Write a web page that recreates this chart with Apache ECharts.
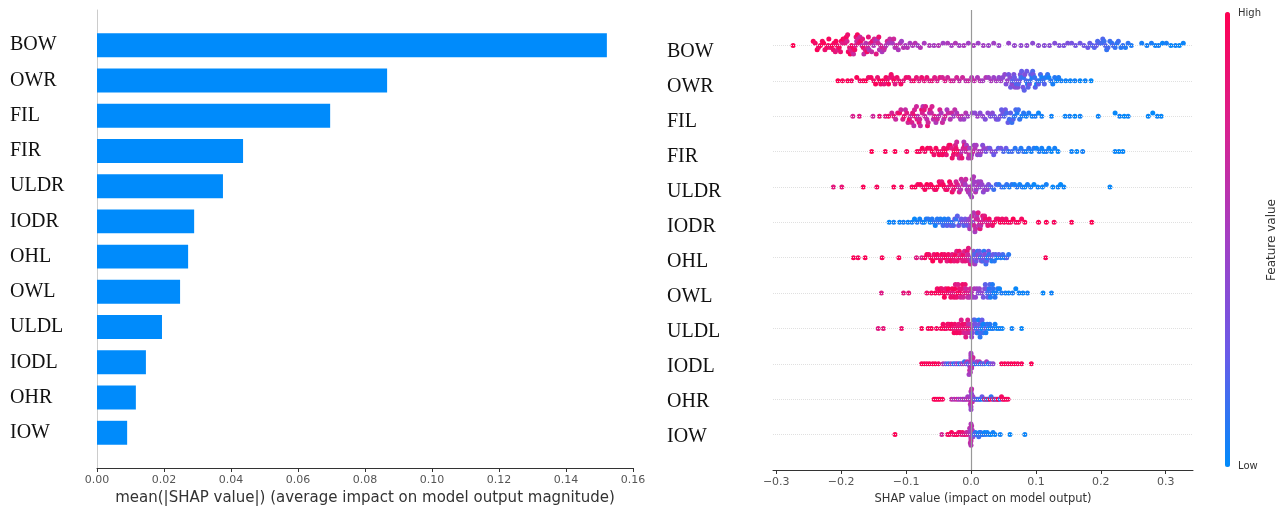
<!DOCTYPE html>
<html><head><meta charset="utf-8">
<script src="https://cdn.jsdelivr.net/npm/echarts@6/dist/echarts.min.js"></script>
<style>html,body{margin:0;padding:0;background:#fff}#c{width:1285px;height:512px}</style>
</head><body><div id="c"></div>
<script>
// features, bottom (index 0) to top (index 11)
const features = ['IOW','OHR','IODL','ULDL','OWL','OHL','IODR','ULDR','FIR','FIL','OWR','BOW'];
const meanAbsShap = [0.009,0.0116,0.0146,0.0194,0.0248,0.0272,0.029,0.0376,0.0436,0.0696,0.0866,0.1522];
const barTicks = [0,0.02,0.04,0.06,0.08,0.10,0.12,0.14,0.16];
const shapTicks = [-0.3,-0.2,-0.1,0,0.1,0.2,0.3];
const rowTicks = [0,1,2,3,4,5,6,7,8,9,10,11];

// each point: [SHAP value, normalised feature value (0 low .. 1 high)]
const shapBOW = [[-0.274,1],
[-0.243,.97],[-0.240,.92],[-0.237,.99],[-0.235,.9],[-0.232,.96],[-0.229,.93],[-0.227,.98],[-0.225,.88],[-0.222,.94],[-0.220,.91],
[-0.219,.95],[-0.217,.86],[-0.214,.99],[-0.212,.9],[-0.211,.93],[-0.209,.84],[-0.208,.97],[-0.206,.89],[-0.205,.8],
[-0.203,.95],[-0.201,.87],[-0.200,.92],[-0.198,.78],[-0.197,.99],[-0.195,.9],[-0.194,.82],[-0.192,.96],[-0.191,.75],[-0.190,.88],[-0.189,.93],
[-0.187,.85],[-0.186,.97],[-0.185,.72],[-0.184,.9],[-0.183,.8],[-0.182,.94],[-0.181,.68],[-0.179,.92],[-0.178,.77],[-0.177,.86],[-0.176,.65],[-0.175,.95],[-0.174,.74],[-0.173,.83],
[-0.171,.7],[-0.170,.9],[-0.168,.62],[-0.167,.81],[-0.166,.88],[-0.165,.66],[-0.163,.78],[-0.162,.6],[-0.160,.92],[-0.159,.7],[-0.158,.84],[-0.157,.58],
[-0.155,.73],[-0.153,.65],[-0.152,.86],[-0.150,.57],[-0.149,.76],[-0.147,.63],[-0.146,.8],[-0.144,.55],[-0.143,.71],[-0.142,.88],[-0.141,.6],
[-0.139,.68],[-0.137,.53],[-0.136,.77],[-0.134,.62],[-0.133,.7],[-0.131,.58],[-0.129,.74],[-0.127,.55],[-0.125,.66],[-0.123,.6],[-0.121,.52],[-0.119,.7],[-0.117,.57],
[-0.115,.64],[-0.112,.55],[-0.109,.61],[-0.107,.5],[-0.104,.6],[-0.101,.54],[-0.098,.57],[-0.094,.52],[-0.090,.55],[-0.086,.6],[-0.082,.5],[-0.078,.58],[-0.072,.53],
[-0.064,.55],[-0.057,.52],[-0.050,.57],[-0.043,.5],[-0.036,.54],[-0.030,.51],[-0.024,.56],[-0.018,.5],[-0.011,.53],[-0.004,.49],[0.004,.52],[0.011,.48],[0.019,.5],[0.027,.47],[0.035,.49],[0.043,.46],
[0.058,.45],[0.067,.44],[0.077,.42],[0.086,.43],[0.095,.4],[0.104,.41],[0.113,.38],[0.121,.39],[0.129,.36],[0.136,.35],[0.143,.33],[0.149,.34],[0.155,.31],[0.161,.3],[0.168,.28],[0.174,.29],[0.180,.26],
[0.183,.24],[0.187,.22],[0.190,.2],[0.193,.25],[0.195,.18],[0.198,.21],[0.201,.16],[0.203,.19],[0.205,.14],[0.207,.2],[0.209,.12],[0.211,.17],[0.214,.15],[0.217,.11],[0.219,.18],[0.222,.13],[0.225,.1],[0.227,.15],[0.231,.09],[0.234,.12],[0.238,.08],[0.242,.11],[0.247,.07],
[0.263,.06],[0.271,.05],[0.278,.07],[0.284,.04],[0.289,.05],[0.295,.03],[0.301,.06],[0.308,.02],[0.315,.04],[0.321,.01],[0.327,.03]];

const shapOWR = [[-0.205,1],[-0.198,.96],[-0.190,.98],[-0.184,.93],
[-0.176,.97],[-0.171,.9],[-0.166,.95],[-0.162,.99],[-0.158,.88],[-0.154,.94],[-0.150,.91],[-0.147,.97],[-0.144,.86],
[-0.141,.95],[-0.139,.9],[-0.136,.99],[-0.134,.84],[-0.131,.93],[-0.129,.88],[-0.127,.96],[-0.125,.82],[-0.123,.91],[-0.121,.87],[-0.119,.95],[-0.117,.8],[-0.114,.9],[-0.111,.85],
[-0.108,.93],[-0.104,.82],[-0.100,.89],[-0.096,.86],[-0.092,.8],[-0.088,.91],[-0.084,.84],[-0.080,.78],[-0.076,.88],[-0.072,.81],[-0.068,.86],[-0.064,.76],[-0.060,.83],[-0.056,.79],[-0.052,.74],[-0.048,.82],[-0.044,.72],[-0.040,.77],[-0.036,.7],[-0.031,.75],[-0.027,.68],[-0.022,.72],[-0.018,.65],[-0.013,.69],[-0.008,.62],[-0.004,.66],[0.001,.58],[0.005,.63],[0.010,.55],[0.014,.6],[0.018,.52],[0.023,.57],[0.027,.5],[0.031,.54],[0.035,.47],[0.039,.52],[0.043,.44],[0.046,.49],[0.049,.4],
[0.052,.42],[0.054,.35],[0.056,.45],[0.058,.3],[0.060,.38],[0.061,.27],[0.063,.41],[0.064,.22],[0.066,.33],[0.067,.25],[0.068,.39],[0.070,.18],[0.071,.29],[0.072,.36],[0.073,.2],[0.075,.26],[0.076,.32],[0.077,.15],[0.078,.24],[0.080,.3],[0.081,.12],[0.082,.22],[0.083,.35],[0.085,.17],[0.086,.27],[0.087,.1],[0.088,.21],[0.090,.3],[0.091,.14],[0.092,.24],[0.094,.08],[0.095,.19],[0.096,.28],[0.098,.12],[0.099,.22],[0.101,.06],[0.102,.16],[0.104,.25],[0.105,.1],[0.107,.18],[0.109,.05],[0.111,.14],[0.113,.2],[0.115,.08],[0.118,.12],[0.120,.04],[0.123,.1],[0.126,.06],[0.129,.09],[0.132,.03],[0.135,.07],[0.139,.05],
[0.146,.04],[0.153,.03],[0.160,.05],[0.168,.02],[0.176,.04],[0.185,.01]];

const shapFIL = [[-0.182,.75],[-0.172,.8],[-0.151,.7],[-0.141,.85],[-0.132,.78],[-0.127,.9],
[-0.122,.72],[-0.119,.84],[-0.116,.68],[-0.113,.8],[-0.110,.92],[-0.108,.7],[-0.105,.77],[-0.103,.86],[-0.101,.65],[-0.099,.8],[-0.097,.72],[-0.095,.9],[-0.093,.68],[-0.091,.76],[-0.090,.83],[-0.088,.64],[-0.087,.74],[-0.086,.88],[-0.084,.7],[-0.083,.79],[-0.082,.62],[-0.080,.85],[-0.079,.72],[-0.078,.67],[-0.076,.9],[-0.075,.75],[-0.074,.6],[-0.072,.82],[-0.071,.69],[-0.070,.77],[-0.068,.63],[-0.067,.86],[-0.066,.71],[-0.064,.58],[-0.063,.8],[-0.061,.66],[-0.060,.74],[-0.058,.61],[-0.056,.78],[-0.054,.56],[-0.052,.7],[-0.050,.64],[-0.048,.75],[-0.046,.55],[-0.044,.68],[-0.042,.6],[-0.040,.72],[-0.037,.53],[-0.035,.66],[-0.032,.58],[-0.030,.7],[-0.027,.5],[-0.025,.63],[-0.022,.55],[-0.019,.67],[-0.016,.52],[-0.014,.6],[-0.011,.48],[-0.008,.58],[-0.005,.5],
[0.002,.45],[0.006,.4],[0.010,.47],[0.014,.38],[0.018,.43],[0.022,.35],[0.026,.41],[0.030,.32],[0.033,.38],[0.036,.29],[0.039,.35],[0.042,.27],[0.045,.33],[0.047,.24],[0.049,.3],[0.051,.2],[0.053,.28],[0.055,.18],[0.057,.25],[0.059,.15],[0.061,.22],[0.063,.13],[0.065,.2],[0.067,.1],[0.069,.18],[0.071,.08],[0.073,.15],[0.075,.12],[0.078,.06],[0.081,.1],[0.085,.05],[0.089,.08],[0.094,.04],[0.099,.07],[0.104,.03],[0.109,.05],
[0.124,.04],[0.145,.03],[0.152,.05],[0.160,.02],[0.168,.04],[0.196,.03],[0.222,.02],[0.229,.04],[0.236,.01],[0.242,.03],[0.273,.02],[0.280,.01],[0.287,.03],[0.293,.02]];

const shapFIR = [[-0.153,1],[-0.132,.97],[-0.117,.99],[-0.099,.95],
[-0.083,.98],[-0.079,.93],[-0.075,.97],[-0.071,.9],[-0.067,.96],[-0.063,.92],[-0.060,.99],[-0.057,.88],[-0.054,.95],[-0.051,.91],[-0.049,.97],[-0.046,.86],[-0.044,.93],[-0.042,.89],[-0.040,.98],[-0.038,.84],[-0.036,.92],[-0.034,.87],[-0.032,.95],[-0.030,.8],[-0.029,.9],[-0.027,.85],[-0.026,.94],[-0.024,.76],[-0.023,.88],[-0.022,.7],[-0.020,.82],[-0.019,.92],[-0.018,.66],[-0.016,.78],[-0.015,.6],[-0.014,.86],[-0.012,.72],[-0.011,.56],[-0.010,.8],[-0.008,.64],[-0.007,.52],[-0.006,.74],[-0.004,.58],[-0.003,.68],[-0.002,.5],[0.000,.62],[0.001,.55],[0.003,.66],[0.005,.48],[0.006,.58],[0.008,.52],[0.010,.44],[0.012,.56],[0.014,.4],[0.016,.5],[0.018,.36],[0.020,.46],[0.023,.32],[0.026,.42],[0.029,.28],[0.032,.38],[0.035,.25],[0.038,.33],[0.042,.22],[0.046,.3],[0.050,.18],[0.054,.25],
[0.058,.12],[0.063,.16],[0.068,.1],[0.073,.14],[0.077,.08],[0.081,.12],[0.085,.06],[0.089,.1],[0.093,.05],[0.097,.09],[0.101,.04],[0.105,.08],[0.109,.05],[0.112,.03],[0.116,.07],[0.120,.04],[0.124,.02],[0.129,.05],[0.134,.03],
[0.155,.04],[0.163,.02],[0.172,.05],[0.222,.03],[0.228,.01],[0.234,.02]];

const shapULDR = [[-0.212,.82],[-0.199,.86],[-0.166,.98],[-0.145,.95],[-0.119,.97],[-0.107,.93],
[-0.091,.96],[-0.086,.99],[-0.082,.92],[-0.078,.97],[-0.074,.9],[-0.071,.95],[-0.068,.99],[-0.065,.88],[-0.062,.94],[-0.059,.97],[-0.056,.86],[-0.054,.92],[-0.052,.98],[-0.049,.9],[-0.047,.95],[-0.045,.84],[-0.043,.93],[-0.041,.97],[-0.039,.88],[-0.037,.92],[-0.035,.82],[-0.033,.95],[-0.031,.87],[-0.029,.91],[-0.027,.8],[-0.025,.88],
[-0.023,.72],[-0.021,.78],[-0.019,.66],[-0.018,.74],[-0.016,.6],[-0.015,.7],[-0.013,.56],[-0.012,.68],[-0.010,.62],[-0.009,.52],[-0.008,.66],[-0.006,.58],[-0.005,.5],[-0.004,.64],[-0.003,.55],[-0.002,.6],[-0.001,.48],[0.000,.57],[0.001,.52],[0.002,.62],[0.003,.46],[0.004,.55],[0.005,.5],[0.007,.58],[0.008,.44],[0.009,.52],[0.011,.47],[0.012,.55],[0.014,.42],[0.015,.5],[0.017,.45],[0.019,.4],[0.021,.48],[0.023,.38],[0.025,.44],[0.027,.35],
[0.031,.2],[0.035,.14],[0.039,.18],[0.043,.1],[0.047,.16],[0.051,.08],[0.055,.12],[0.059,.06],[0.063,.1],[0.067,.05],[0.071,.09],[0.075,.04],[0.079,.08],[0.083,.03],[0.087,.06],[0.092,.05],[0.097,.02],[0.103,.04],[0.110,.03],[0.116,.05],[0.126,.02],[0.134,.04],[0.138,.01],[0.143,.03],[0.214,.02]];

const shapIODR = [[-0.126,.02],[-0.119,.05],[-0.110,.03],[-0.104,.06],[-0.097,.04],
[-0.091,.05],[-0.087,.02],[-0.083,.07],[-0.079,.04],[-0.075,.09],[-0.072,.03],[-0.069,.06],[-0.066,.1],[-0.063,.04],[-0.060,.08],[-0.057,.12],[-0.055,.05],[-0.052,.09],[-0.050,.14],[-0.047,.07],[-0.045,.11],[-0.043,.16],[-0.041,.06],[-0.039,.13],[-0.037,.2],[-0.035,.09],[-0.033,.15],[-0.031,.24],[-0.029,.1],[-0.027,.18],[-0.025,.28],[-0.023,.12],[-0.021,.22],[-0.019,.32],[-0.017,.16],[-0.015,.26],[-0.013,.36],[-0.011,.2],[-0.009,.3],[-0.007,.4],[-0.005,.25],[-0.003,.45],
[-0.002,.55],[-0.001,.42],[0.000,.6],[0.001,.5],[0.002,.66],[0.003,.45],[0.004,.58],[0.005,.7],[0.006,.52],[0.007,.64],[0.008,.74],[0.009,.56],[0.010,.68],[0.011,.78],[0.012,.6],[0.013,.72],[0.014,.82],[0.015,.62],[0.017,.76],[0.018,.86],[0.019,.68],[0.021,.8],[0.022,.9],[0.024,.72],[0.026,.84],[0.028,.92],[0.030,.78],
[0.033,.88],[0.036,.95],[0.039,.85],[0.042,.92],[0.045,.98],[0.048,.9],[0.051,.95],[0.054,.88],[0.057,.97],[0.061,.93],[0.065,.99],[0.069,.91],[0.073,.96],[0.078,.94],[0.083,.98],
[0.104,.97],[0.116,.99],[0.128,.95],[0.155,.98],[0.186,1]];

const shapOHL = [[-0.181,.98],[-0.174,.95],[-0.163,.99],[-0.137,.97],[-0.111,.96],[-0.084,.8],[-0.076,.78],
[-0.071,.93],[-0.068,.97],[-0.065,.9],[-0.062,.95],[-0.059,.99],[-0.057,.88],[-0.054,.93],[-0.052,.97],[-0.050,.86],[-0.047,.92],[-0.045,.96],[-0.043,.84],[-0.041,.9],[-0.039,.98],[-0.037,.82],[-0.035,.92],[-0.033,.87],[-0.031,.95],[-0.029,.8],[-0.027,.9],[-0.026,.85],[-0.024,.94],[-0.022,.78],[-0.021,.88],[-0.019,.83],[-0.018,.92],[-0.016,.75],[-0.015,.86],[-0.013,.8],[-0.012,.9],[-0.010,.72],[-0.009,.84],[-0.008,.77],[-0.006,.88],[-0.005,.7],[-0.004,.82],[-0.003,.75],[-0.002,.65],[-0.001,.8],
[0.001,.45],[0.002,.3],[0.004,.4],[0.005,.2],[0.006,.5],[0.008,.25],[0.009,.35],[0.010,.15],[0.011,.42],[0.013,.22],[0.014,.3],[0.015,.12],[0.016,.38],[0.018,.18],[0.019,.28],[0.020,.1],[0.021,.35],[0.023,.15],[0.024,.25],[0.025,.08],[0.027,.32],[0.028,.12],[0.030,.22],[0.032,.06],[0.034,.28],[0.036,.1],[0.038,.2],[0.040,.05],[0.043,.24],[0.046,.08],[0.049,.16],[0.052,.05],[0.055,.2],[0.058,.1],
[0.115,.97]];

const shapOWL = [[-0.138,.78],[-0.104,.82],[-0.096,.85],[-0.068,.9],[-0.061,.94],
[-0.055,.97],[-0.052,.9],[-0.049,.95],[-0.047,.99],[-0.045,.88],[-0.043,.94],[-0.041,.97],[-0.039,.86],[-0.037,.92],[-0.035,.98],[-0.033,.84],[-0.031,.9],[-0.029,.95],[-0.028,.82],[-0.026,.91],[-0.025,.97],[-0.024,.8],[-0.022,.88],[-0.021,.94],[-0.020,.78],[-0.018,.86],[-0.017,.93],[-0.016,.75],[-0.014,.84],[-0.013,.9],[-0.012,.72],[-0.010,.82],[-0.009,.88],[-0.008,.7],[-0.006,.8],[-0.005,.66],[-0.004,.76],[-0.002,.62],[-0.001,.72],
[0.001,.58],[0.003,.5],[0.005,.55],[0.007,.45],[0.009,.52],[0.011,.4],[0.013,.48],[0.015,.35],[0.017,.42],[0.019,.3],[0.021,.38],[0.022,.22],[0.024,.3],[0.025,.15],[0.026,.25],[0.028,.1],[0.029,.2],[0.030,.06],[0.031,.16],[0.033,.08],[0.034,.12],[0.035,.04],[0.037,.1],[0.039,.05],[0.041,.09],[0.044,.03],[0.047,.07],
[0.053,.05],[0.058,.03],[0.064,.06],[0.069,.02],[0.074,.04],[0.080,.03],[0.087,.05],[0.111,.02],[0.124,.04]];

const shapULDL = [[-0.143,.8],[-0.135,.84],[-0.107,.88],[-0.076,.97],[-0.066,.95],[-0.061,.99],[-0.053,.93],
[-0.046,.97],[-0.043,.92],[-0.041,.99],[-0.038,.9],[-0.036,.95],[-0.034,.88],[-0.032,.97],[-0.030,.93],[-0.028,.86],[-0.026,.96],[-0.025,.9],[-0.023,.84],[-0.022,.94],[-0.020,.88],[-0.019,.82],[-0.017,.92],[-0.016,.86],[-0.015,.78],[-0.013,.9],[-0.012,.84],[-0.011,.75],[-0.009,.88],[-0.008,.8],[-0.007,.72],[-0.006,.86],[-0.005,.78],[-0.004,.68],[-0.003,.82],[-0.002,.7],[-0.001,.6],
[0.001,.45],[0.002,.35],[0.003,.5],[0.004,.25],[0.005,.4],[0.006,.18],[0.007,.3],[0.008,.12],[0.009,.38],[0.010,.08],[0.011,.22],[0.012,.05],[0.013,.28],[0.014,.1],[0.015,.18],[0.016,.04],[0.017,.24],[0.018,.08],[0.019,.14],[0.020,.03],[0.022,.2],[0.023,.06],[0.025,.12],[0.027,.04],[0.029,.1],[0.031,.03],[0.034,.08],[0.037,.05],[0.040,.02],[0.044,.06],[0.048,.03],[0.063,.04],[0.078,.02]];

const shapIODL = [[-0.076,.97],[-0.072,.99],[-0.068,.94],[-0.064,.98],[-0.059,.95],[-0.055,.99],[-0.050,.93],
[-0.043,.6],[-0.039,.3],[-0.035,.15],[-0.031,.45],[-0.027,.1],[-0.024,.25],[-0.021,.5],[-0.018,.08],[-0.015,.35],[-0.012,.55],[-0.010,.12],[-0.008,.4],[-0.006,.6],[-0.005,.2],
[-0.003,.5],[-0.002,.7],[-0.002,.4],[-0.001,.55],[-0.001,.62],[0.000,.45],[0.000,.58],[0.000,.66],[0.000,.52],[0.000,.48],[0.000,.6],[0.001,.54],[0.001,.64],[0.001,.42],[0.002,.57],[0.002,.5],[0.003,.68],
[0.005,.3],[0.007,.1],[0.009,.45],[0.011,.2],[0.013,.6],[0.015,.05],[0.018,.35],[0.021,.15],[0.024,.5],[0.027,.08],[0.030,.25],[0.034,.4],
[0.047,.95],[0.052,.98],[0.057,.92],[0.062,.97],[0.067,.99],[0.072,.94],[0.078,.96],[0.093,.98]];

const shapOHR = [[-0.057,.97],[-0.054,.99],[-0.051,.94],[-0.048,.98],[-0.044,.95],
[-0.030,.65],[-0.026,.55],[-0.022,.7],[-0.019,.5],[-0.016,.6],[-0.013,.45],[-0.011,.68],[-0.009,.4],[-0.007,.58],[-0.005,.5],[-0.004,.62],
[-0.002,.55],[-0.001,.6],[-0.001,.48],[0.000,.52],[0.000,.64],[0.000,.45],[0.000,.58],[0.000,.5],[0.001,.62],[0.001,.42],[0.002,.56],[0.002,.66],[0.003,.5],
[0.005,.35],[0.007,.2],[0.009,.4],[0.011,.1],[0.013,.3],[0.015,.05],[0.017,.25],[0.019,.08],[0.021,.85],[0.023,.15],[0.025,.9],[0.027,.05],[0.029,.95],[0.031,.12],[0.033,.88],[0.035,.08],[0.037,.97],[0.039,.2],[0.041,.92],[0.043,.99],[0.045,.1],[0.047,.94],[0.049,.98],[0.051,.9],[0.054,.96],[0.057,.93]];

const shapIOW = [[-0.117,.99],[-0.045,.72],[-0.036,.95],[-0.033,.9],[-0.030,.98],[-0.027,.86],[-0.024,.93],[-0.021,.97],[-0.019,.84],[-0.017,.91],[-0.015,.8],[-0.013,.88],[-0.011,.76],[-0.009,.85],[-0.007,.7],[-0.005,.8],[-0.004,.66],
[-0.002,.6],[-0.001,.55],[-0.001,.65],[0.000,.5],[0.000,.58],[0.000,.62],[0.000,.45],[0.000,.55],[0.000,.68],[0.001,.5],[0.001,.6],[0.002,.48],[0.002,.56],[0.003,.4],
[0.005,.2],[0.007,.1],[0.008,.25],[0.010,.05],[0.012,.15],[0.013,.03],[0.015,.12],[0.017,.06],[0.019,.1],[0.021,.02],[0.023,.08],[0.025,.04],[0.028,.06],[0.031,.02],[0.034,.05],[0.037,.03],[0.045,.04],[0.060,.02],[0.083,.03]];

const shapRows = [shapIOW,shapOHR,shapIODL,shapULDL,shapOWL,shapOHL,shapIODR,shapULDR,shapFIR,shapFIL,shapOWR,shapBOW];

// beeswarm layout (SHAP-style binning) -> [shap, row + offset, featureValue]
function swarm(points, row) {
  const xs = points.map(p => p[0]);
  const mn = Math.min(...xs), mx = Math.max(...xs);
  const nb = 50;
  const q = points.map(p => Math.round(nb * (p[0] - mn) / (mx - mn + 1e-8)));
  // deterministic order inside a bin (golden-ratio sequence on the index)
  const ord = points.map((p, i) => (i * 0.6180339887) % 1);
  const idx = points.map((p, i) => i).sort((a, b) => (q[a] - q[b]) || (ord[a] - ord[b]));
  const ys = new Array(points.length).fill(0);
  let layer = 0, last = -1;
  idx.forEach(i => {
    if (q[i] !== last) layer = 0;
    ys[i] = Math.ceil(layer / 2) * ((layer % 2) * 2 - 1);
    layer++; last = q[i];
  });
  const m = Math.max(...ys.map(y => y + 1));
  const s = 0.9 * 0.4 / m;
  return points.map((p, i) => [p[0], row + ys[i] * s, p[1]]);
}
let swarmData = [];
shapRows.forEach((pts, r) => { swarmData = swarmData.concat(swarm(pts, r)); });

const FONT = 'DejaVu Sans';
const SERIF = '"Liberation Serif", "Times New Roman", serif';
const minusFmt = v => (v < 0 ? '\u2212' : '') + Math.abs(v).toFixed(1);

const chart = echarts.init(document.getElementById('c'), null, {renderer: 'canvas'});
chart.setOption({
  animation: false,
  backgroundColor: '#fff',
  grid: [
    {left: 97, right: 652, top: 10, bottom: 44},
    {left: 773, right: 92, top: 10, bottom: 42}
  ],
  xAxis: [
    {gridIndex: 0, type: 'value', min: 0, max: 0.16, interval: 0.02,
     axisLine: {onZero: false, lineStyle: {color: '#333', width: 1}},
     axisTick: {show: true, length: 4, lineStyle: {color: '#333'}},
     axisLabel: {formatter: v => v.toFixed(2), fontFamily: FONT, fontSize: 11, color: '#555', margin: 7},
     splitLine: {show: false},
     name: 'mean(|SHAP value|) (average impact on model output magnitude)',
     nameLocation: 'middle', nameGap: 23,
     nameTextStyle: {fontFamily: FONT, fontSize: 15, color: '#333'}},
    {gridIndex: 1, type: 'value', min: -0.305, max: 0.342,
     axisLine: {onZero: false, lineStyle: {color: '#333', width: 1}},
     axisTick: {show: true, length: 4, customValues: shapTicks, lineStyle: {color: '#333'}},
     axisLabel: {customValues: shapTicks, formatter: minusFmt, fontFamily: FONT, fontSize: 11, color: '#555', margin: 7},
     splitLine: {show: false},
     name: 'SHAP value (impact on model output)',
     nameLocation: 'middle', nameGap: 23,
     nameTextStyle: {fontFamily: FONT, fontSize: 11.5, color: '#333'}}
  ],
  yAxis: [
    {gridIndex: 0, type: 'value', min: -1, max: 12,
     axisLine: {show: true, onZero: false, lineStyle: {color: '#ccc'}},
     axisTick: {show: false}, splitLine: {show: false},
     axisLabel: {customValues: rowTicks, formatter: v => features[v], align: 'left', margin: 87,
                 fontFamily: SERIF, fontSize: 20, color: '#111'}},
    {gridIndex: 1, type: 'value', min: -1, max: 12, show: false},
    {gridIndex: 1, type: 'value', min: -0.943, max: 12.2, position: 'left',
     axisLine: {show: false, onZero: false}, axisTick: {show: false}, splitLine: {show: false},
     axisLabel: {customValues: rowTicks, formatter: v => features[v], align: 'left', margin: 106,
                 fontFamily: SERIF, fontSize: 20, color: '#111'}}
  ],
  visualMap: {
    type: 'continuous', seriesIndex: 1, dimension: 2, min: 0, max: 1,
    inRange: {color: ['#008bfb', '#6a5ae8', '#a33fc4', '#d9218f', '#ff0052']},
    orient: 'vertical', left: 1225, top: 12, itemWidth: 5, itemHeight: 455,
    calculable: false, padding: 0, hoverLink: false
  },
  graphic: [
    {type: 'text', left: 1238, top: 8, style: {text: 'High', font: '10px "DejaVu Sans"', fill: '#333'}},
    {type: 'text', left: 1238, top: 461, style: {text: 'Low', font: '10px "DejaVu Sans"', fill: '#333'}},
    {type: 'text', x: 1272, y: 240, rotation: Math.PI / 2,
     style: {text: 'Feature value', font: '12px "DejaVu Sans"', fill: '#333', align: 'center', verticalAlign: 'middle'}}
  ],
  series: [
    {type: 'custom', xAxisIndex: 0, yAxisIndex: 0,
     data: meanAbsShap.map((v, i) => [v, i]),
     encode: {x: 0, y: 1},
     renderItem: (params, api) => {
       const y = api.value(1), v = api.value(0);
       const p0 = api.coord([0, y]), p1 = api.coord([v, y]);
       const h = api.size([0, 0.68])[1];
       return {type: 'rect', shape: {x: p0[0], y: p0[1] - h / 2, width: p1[0] - p0[0], height: h},
               style: {fill: '#008bfb'}};
     }},
    {type: 'scatter', xAxisIndex: 1, yAxisIndex: 1, symbolSize: 5, z: 3,
     data: swarmData, itemStyle: {opacity: 1}},
    {type: 'scatter', xAxisIndex: 1, yAxisIndex: 1, data: [], z: 1, silent: true,
     markLine: {silent: true, symbol: ['none', 'none'], label: {show: false}, animation: false,
       data: rowTicks.map(i => ({yAxis: i, lineStyle: {type: 'dotted', color: '#e0e0e0', width: 1}}))
         .concat([{xAxis: 0, lineStyle: {type: 'solid', color: '#999', width: 1.2}}])}}
  ]
});
</script></body></html>
